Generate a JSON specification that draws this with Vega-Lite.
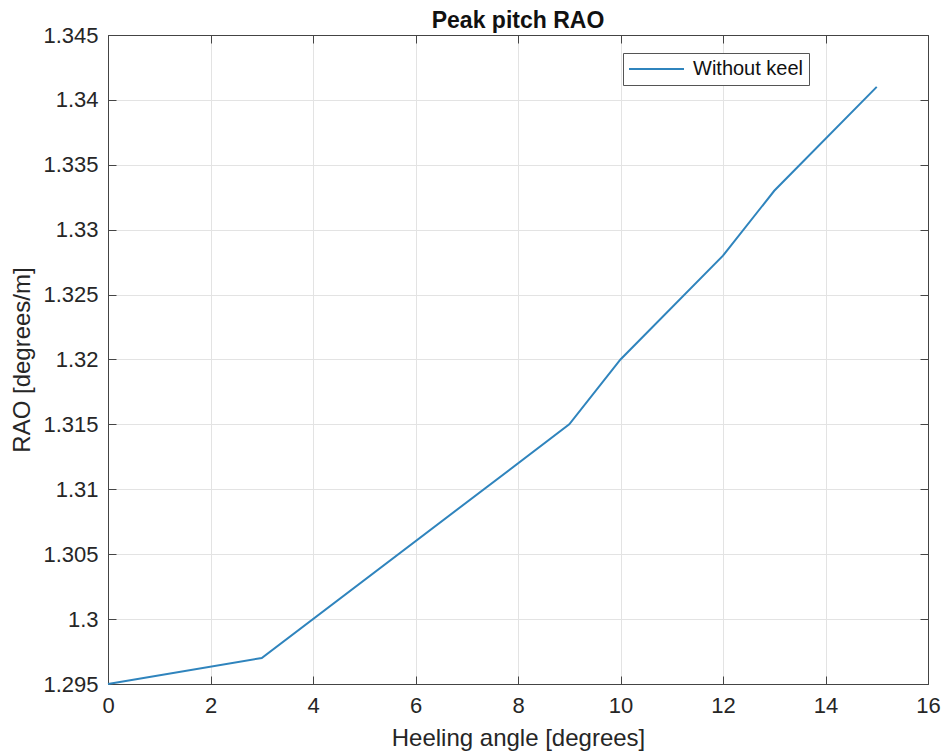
{
  "$schema": "https://vega.github.io/schema/vega-lite/v6.json",
  "width": 820,
  "height": 649,
  "autosize": {"type": "none"},
  "padding": {"left": 108, "top": 35, "right": 19, "bottom": 72},
  "background": "white",
  "config": {
    "font": "Liberation Sans",
    "view": {"stroke": "#444", "strokeWidth": 1},
    "axis": {
      "domainColor": "#444",
      "tickColor": "#444",
      "gridColor": "#e3e3e3",
      "labelColor": "#262626",
      "titleColor": "#262626",
      "labelFont": "Liberation Sans",
      "titleFont": "Liberation Sans",
      "labelFontSize": 22,
      "titleFontSize": 24,
      "titleFontWeight": "normal"
    }
  },
  "title": {
    "text": "Peak pitch RAO",
    "font": "Liberation Sans",
    "fontSize": 23,
    "fontWeight": "bold",
    "color": "#111",
    "offset": 8,
    "dy": 17
  },
  "data": {
    "values": [
      {"angle": 0, "rao": 1.295, "series": "Without keel"},
      {"angle": 3, "rao": 1.297, "series": "Without keel"},
      {"angle": 9, "rao": 1.315, "series": "Without keel"},
      {"angle": 10, "rao": 1.32, "series": "Without keel"},
      {"angle": 12, "rao": 1.328, "series": "Without keel"},
      {"angle": 13, "rao": 1.333, "series": "Without keel"},
      {"angle": 15, "rao": 1.341, "series": "Without keel"}
    ]
  },
  "layer": [
    {
      "mark": {"type": "line", "strokeWidth": 2},
      "encoding": {
        "x": {
          "field": "angle",
          "type": "quantitative",
          "scale": {"domain": [0, 16], "nice": false, "zero": false},
          "axis": {
            "title": "Heeling angle [degrees]",
            "values": [0, 2, 4, 6, 8, 10, 12, 14, 16],
            "tickSize": -8,
            "labelPadding": 19,
            "titlePadding": 10,
            "labelFlush": false
          }
        },
        "y": {
          "field": "rao",
          "type": "quantitative",
          "scale": {"domain": [1.295, 1.345], "nice": false, "zero": false},
          "axis": {
            "title": "RAO [degrees/m]",
            "values": [1.295, 1.3, 1.305, 1.31, 1.315, 1.32, 1.325, 1.33, 1.335, 1.34, 1.345],
            "format": "~g",
            "tickSize": -8,
            "labelPadding": 18,
            "titlePadding": 8,
            "labelFlush": false
          }
        },
        "color": {
          "field": "series",
          "type": "nominal",
          "scale": {"range": ["#2f84bd"]},
          "legend": {
            "title": null,
            "orient": "none",
            "legendX": 515,
            "legendY": 18,
            "symbolType": "stroke",
            "symbolSize": 3025,
            "symbolStrokeWidth": 2,
            "clipHeight": 22,
            "labelOffset": 8,
            "labelFontSize": 20,
            "labelFont": "Liberation Sans",
            "labelColor": "#111",
            "strokeColor": "#555",
            "fillColor": "white",
            "padding": 5
          }
        }
      }
    },
    {
      "mark": {"type": "line", "opacity": 0},
      "encoding": {
        "x": {
          "field": "angle",
          "type": "quantitative",
          "scale": {"domain": [0, 16], "nice": false, "zero": false},
          "axis": {"orient": "top", "title": null, "labels": false, "grid": false, "tickSize": -8, "values": [0, 2, 4, 6, 8, 10, 12, 14, 16]}
        },
        "y": {
          "field": "rao",
          "type": "quantitative",
          "scale": {"domain": [1.295, 1.345], "nice": false, "zero": false},
          "axis": {"orient": "right", "title": null, "labels": false, "grid": false, "tickSize": -8, "values": [1.295, 1.3, 1.305, 1.31, 1.315, 1.32, 1.325, 1.33, 1.335, 1.34, 1.345]}
        }
      }
    }
  ],
  "resolve": {"axis": {"x": "independent", "y": "independent"}}
}
